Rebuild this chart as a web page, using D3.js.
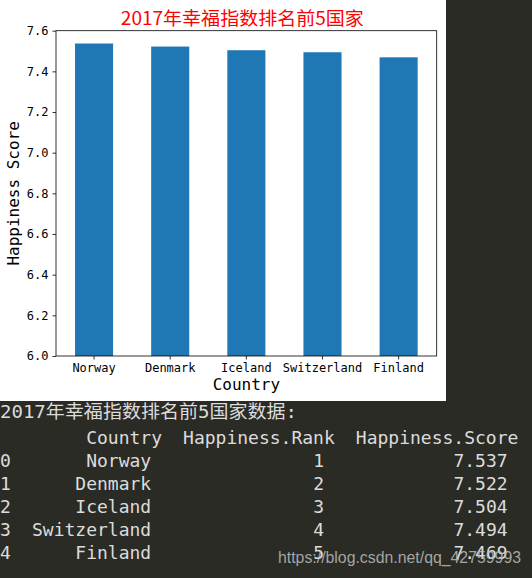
<!DOCTYPE html>
<html><head><meta charset="utf-8">
<script src="https://cdn.jsdelivr.net/npm/d3@7/dist/d3.min.js"></script>
<style>
html,body{margin:0;padding:0;background:#2b2b26;}
svg{display:block;}
</style></head>
<body>
<svg id="c" width="532" height="578"></svg>
<script>
const countries = ["Norway","Denmark","Iceland","Switzerland","Finland"];
const ranks = [1,2,3,4,5];
const scores = [7.537,7.522,7.504,7.494,7.469];
const yTicks = [6.0,6.2,6.4,6.6,6.8,7.0,7.2,7.4,7.6];
const title = "2017年幸福指数排名前5国家";
const tableTitle = "2017年幸福指数排名前5国家数据:";
const headers = ["Country","Happiness.Rank","Happiness.Score"];
const watermark = "https://blog.csdn.net/qq_42759993";

const svg = d3.select("#c");
svg.append("rect").attr("x",0).attr("y",0).attr("width",532).attr("height",578).attr("fill","#2b2b26");
svg.append("rect").attr("x",0).attr("y",0).attr("width",446).attr("height",401).attr("fill","#ffffff");

const L=56, R=436.7, T=30.7, B=356;
const x = d3.scaleBand().domain(countries).range([L,R]).paddingInner(0.5).paddingOuter(0.25);
const y = d3.scaleLinear().domain([6.0,7.6]).range([B,T]);
const mono = "'DejaVu Sans Mono', monospace";

svg.append("g").selectAll("rect").data(countries).join("rect")
  .attr("x",d=>x(d)).attr("width",x.bandwidth())
  .attr("y",(d,i)=>y(scores[i])).attr("height",(d,i)=>B-y(scores[i]))
  .attr("fill","#1f77b4");

const ya = svg.append("g").attr("transform",`translate(${L},0)`)
  .call(d3.axisLeft(y).tickValues(yTicks).tickFormat(d3.format(".1f")).tickSize(3.5).tickPadding(4));
const xa = svg.append("g").attr("transform",`translate(0,${B})`)
  .call(d3.axisBottom(x).tickSize(3.5).tickPadding(4));
[ya,xa].forEach(a=>{
  a.select(".domain").remove();
  a.selectAll("line").attr("stroke","#000").attr("stroke-width",0.8);
  a.selectAll("text").attr("fill","#000").style("font-family",mono).style("font-size","12px");
});
xa.selectAll("text").attr("dy",null).attr("y",16);

svg.append("rect").attr("x",L).attr("y",T).attr("width",R-L).attr("height",B-T)
  .attr("fill","none").attr("stroke","#000").attr("stroke-width",0.8);

svg.append("text").attr("x",(L+R)/2-4).attr("y",25).attr("text-anchor","middle")
  .attr("fill","#ff0000").style("font-family","'Noto Sans CJK SC', sans-serif").style("font-size","18px")
  .attr("textLength",243).attr("lengthAdjust","spacingAndGlyphs").text(title);

svg.append("text").attr("x",(L+R)/2).attr("y",390).attr("text-anchor","middle")
  .attr("fill","#000").style("font-family",mono).style("font-size","16px").text("Country");
svg.append("text").attr("transform",`translate(19,${(T+B)/2}) rotate(-90)`).attr("text-anchor","middle")
  .attr("fill","#000").style("font-family",mono).style("font-size","16px").text("Happiness Score");

// console-style table
const cw = 10.8, fg = "#dcdcdc";
const tf = g => g.attr("fill",fg).style("font-family",mono).style("font-size","18px");
svg.append("text").attr("x",0).attr("y",418).call(tf)
  .style("font-family","'DejaVu Sans Mono','Noto Sans CJK SC',monospace")
  .attr("textLength",297).attr("lengthAdjust","spacingAndGlyphs").text(tableTitle);
const hdrEnd = [15,31,48];
headers.forEach((h,i)=>{
  svg.append("text").attr("x",hdrEnd[i]*cw).attr("y",444).attr("text-anchor","end").call(tf).text(h);
});
countries.forEach((c,i)=>{
  const by = 467 + i*23;
  svg.append("text").attr("x",0).attr("y",by).call(tf).text(String(i));
  svg.append("text").attr("x",14*cw).attr("y",by).attr("text-anchor","end").call(tf).text(c);
  svg.append("text").attr("x",30*cw).attr("y",by).attr("text-anchor","end").call(tf).text(String(ranks[i]));
  svg.append("text").attr("x",47*cw).attr("y",by).attr("text-anchor","end").call(tf).text(scores[i].toFixed(3));
});
svg.append("text").attr("x",278).attr("y",563).attr("fill","#bdbdbd").attr("fill-opacity",0.85)
  .style("font-family","'Liberation Sans', Arial, sans-serif").style("font-size","16px")
  .attr("textLength",243).attr("lengthAdjust","spacingAndGlyphs").text(watermark);
</script>
</body></html>
